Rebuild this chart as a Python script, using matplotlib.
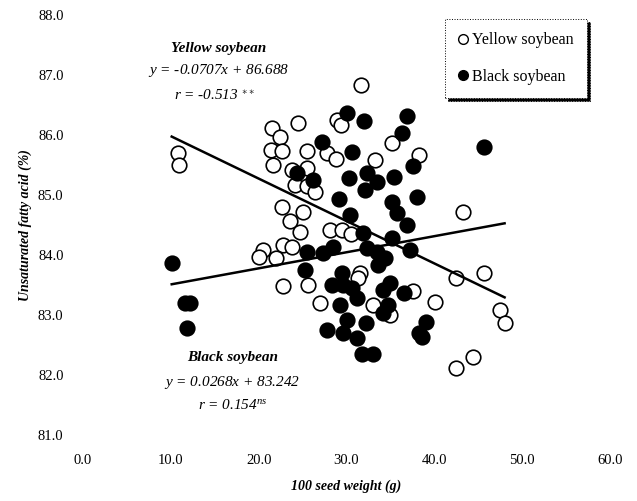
import numpy as np
import matplotlib
matplotlib.use("Agg")
import matplotlib.pyplot as plt
from matplotlib.lines import Line2D

plt.rcParams['font.family'] = ['Liberation Serif', 'DejaVu Serif']
plt.rcParams['mathtext.fontset'] = 'custom'
plt.rcParams['mathtext.it'] = 'Liberation Serif:italic'
plt.rcParams['mathtext.rm'] = 'Liberation Serif'

# Yellow soybean (open circles)
yellow_x = [10.8, 10.9, 21.5, 22.4, 21.4, 22.7, 21.6, 24.5, 31.7, 28.9,
            29.4, 25.5, 27.8, 28.8, 33.3, 35.2, 38.3, 23.8, 25.5, 24.1,
            25.5, 26.4, 22.7, 25.1, 23.6, 24.7, 28.1, 29.5, 30.5, 22.8,
            23.8, 20.5, 20.0, 22.0, 22.8, 25.6, 27.0, 31.5, 31.3, 33.0,
            35.0, 37.6, 40.1, 43.3, 42.5, 45.6, 47.5, 48.0, 44.4, 42.5]
yellow_y = [85.70, 85.50, 86.12, 85.97, 85.75, 85.73, 85.50, 86.20, 86.83, 86.25,
            86.17, 85.73, 85.70, 85.60, 85.58, 85.87, 85.67, 85.42, 85.45, 85.17,
            85.15, 85.05, 84.80, 84.72, 84.57, 84.38, 84.42, 84.42, 84.35, 84.17,
            84.13, 84.08, 83.97, 83.95, 83.48, 83.50, 83.20, 83.70, 83.62, 83.17,
            83.00, 83.40, 83.22, 84.72, 83.62, 83.70, 83.08, 82.87, 82.30, 82.12]

# Black soybean (filled circles)
black_x = [10.1, 11.6, 12.2, 11.8, 30.1, 32.0, 36.9, 36.3, 37.6, 45.7,
           27.2, 30.6, 24.4, 26.2, 30.3, 32.3, 33.5, 35.4, 32.1, 29.2,
           35.2, 38.0, 30.4, 35.8, 36.9, 35.2, 31.9, 37.2, 25.5, 27.3,
           28.5, 32.3, 33.5, 34.4, 33.6, 25.3, 29.5, 28.4, 29.6, 30.6,
           31.2, 29.3, 35.0, 34.2, 34.7, 34.1, 30.1, 32.2, 27.8, 29.6,
           31.2, 31.8, 33.0, 36.6, 39.0, 38.2, 38.6]
black_y = [83.87, 83.20, 83.20, 82.78, 86.37, 86.23, 86.32, 86.03, 85.48, 85.80,
           85.88, 85.72, 85.37, 85.25, 85.28, 85.37, 85.22, 85.30, 85.08, 84.93,
           84.88, 84.97, 84.67, 84.70, 84.50, 84.28, 84.37, 84.08, 84.05, 84.03,
           84.13, 84.12, 84.05, 83.95, 83.83, 83.75, 83.70, 83.50, 83.50, 83.45,
           83.28, 83.17, 83.53, 83.42, 83.17, 83.03, 82.92, 82.87, 82.75, 82.70,
           82.62, 82.35, 82.35, 83.37, 82.88, 82.70, 82.63]

# regression equations from the chart
yellow_slope, yellow_icpt = -0.0707, 86.688
black_slope, black_icpt = 0.0268, 83.242

fig = plt.figure(figsize=(6.37, 5.01), dpi=100)
ax = fig.add_axes([0.1303, 0.1317, 0.8273, 0.8383])

ax.scatter(yellow_x, yellow_y, s=110, facecolors='white', edgecolors='black',
           linewidths=1.2, zorder=3)
ax.scatter(black_x, black_y, s=110, facecolors='black', edgecolors='black',
           linewidths=1.2, zorder=3)

xs = np.array([min(yellow_x + black_x), max(yellow_x + black_x)])
ax.plot(xs, yellow_slope * xs + yellow_icpt, color='black', lw=1.8, zorder=4)
ax.plot(xs, black_slope * xs + black_icpt, color='black', lw=1.8, zorder=4)

ax.set_xlim(0, 60)
ax.set_ylim(81, 88)
ax.set_xticks(np.arange(0, 61, 10))
ax.set_yticks(np.arange(81, 88.1, 1))
ax.set_xticklabels([f'{v:.1f}' for v in np.arange(0, 61, 10)])
ax.set_yticklabels([f'{v:.1f}' for v in np.arange(81, 88.1, 1)])
ax.tick_params(length=0, labelsize=10.5)
ax.tick_params(axis='x', pad=14)
ax.tick_params(axis='y', pad=14)
for s in ax.spines.values():
    s.set_visible(False)

ax.set_xlabel('100 seed weight (g)', fontsize=10, fontweight='bold', style='italic',
              labelpad=9)
ax.set_ylabel('Unsaturated fatty acid (%)', fontsize=10, fontweight='bold', style='italic',
              labelpad=4)

# equations
ax.text(15.4, 87.45, 'Yellow soybean', ha='center', va='center', fontsize=11,
        fontweight='bold', style='italic')
ax.text(15.4, 87.08, r'$y$ = -0.0707$x$ + 86.688', ha='center', va='center',
        fontsize=11, style='italic')
ax.text(15.0, 86.67, r'$r$ = -0.513$^{\ \ast\!\ast}$', ha='center', va='center',
        fontsize=11, style='italic')

ax.text(17.0, 82.3, 'Black soybean', ha='center', va='center', fontsize=11,
        fontweight='bold', style='italic')
ax.text(17.0, 81.88, r'$y$ = 0.0268$x$ + 83.242', ha='center', va='center',
        fontsize=11, style='italic')
ax.text(17.0, 81.5, r'$r$ = 0.154$^{ns}$', ha='center', va='center',
        fontsize=11, style='italic')

handles = [Line2D([], [], ls='none', marker='o', markersize=7, markerfacecolor='white',
                  markeredgecolor='black', markeredgewidth=1.0),
           Line2D([], [], ls='none', marker='o', markersize=7, markerfacecolor='black',
                  markeredgecolor='black')]
leg = fig.legend(handles, ['Yellow soybean', 'Black soybean'], loc='center',
                 bbox_to_anchor=(0.81, 0.883), fontsize=11.5, frameon=True,
                 fancybox=False, shadow={'color': 'black', 'alpha': 1.0},
                 handlelength=0.6, handletextpad=0.3, labelspacing=1.3,
                 borderpad=0.8)
frame = leg.get_frame()
frame.set_edgecolor('black')
frame.set_linestyle(':')
frame.set_linewidth(0.7)

fig.savefig('out.png', dpi=100)
